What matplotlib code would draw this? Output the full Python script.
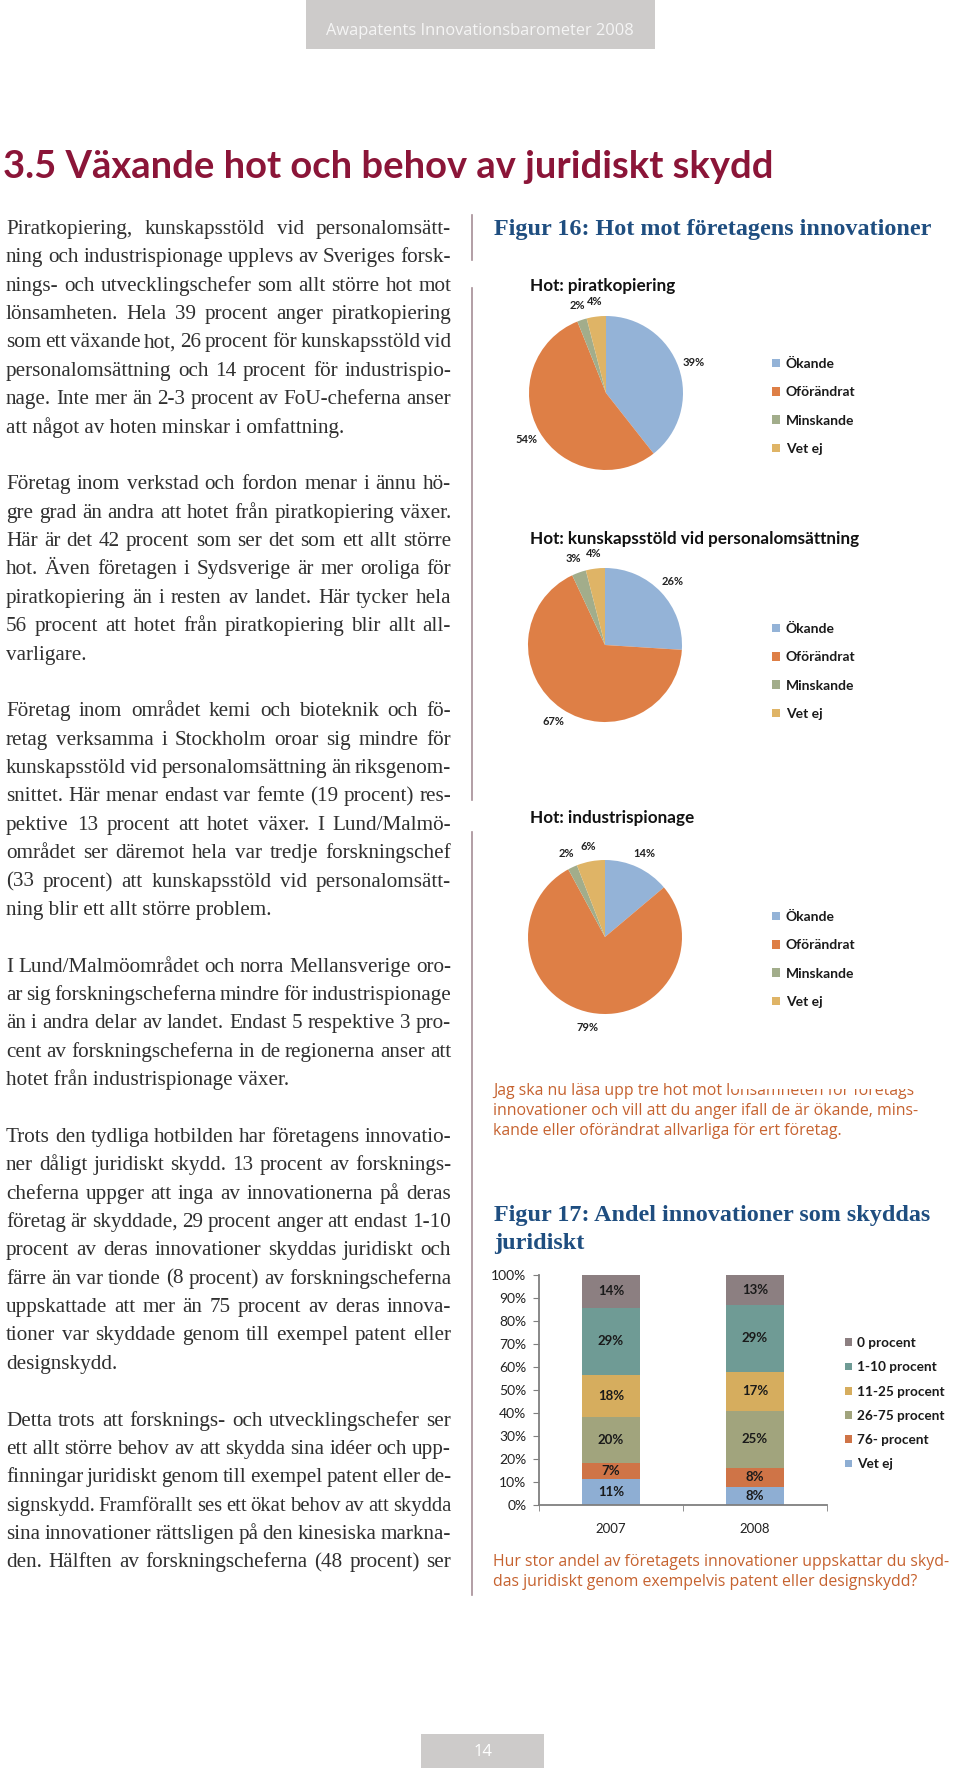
import matplotlib
matplotlib.use("Agg")
import matplotlib.pyplot as plt
from matplotlib.patches import Rectangle

W, H = 960, 1768

# --- data -------------------------------------------------------------
threat_labels = ["Ökande", "Oförändrat", "Minskande", "Vet ej"]
threat_colors = ["#94b3d7", "#de7f46", "#a2ad8b", "#dfb466"]
pie_titles = ["Hot: piratkopiering",
              "Hot: kunskapsstöld vid personalomsättning",
              "Hot: industrispionage"]
pirat = [39, 54, 2, 4]
kunskap = [26, 67, 3, 4]
spionage = [14, 79, 2, 6]

years = ["2007", "2008"]
share_labels = ["Vet ej", "76- procent", "26-75 procent",
                "11-25 procent", "1-10 procent", "0 procent"]
share_colors = ["#8eaed3", "#cf7447", "#a1a47d", "#d6ad5e", "#6f9b95", "#8c7f81"]
share_2007 = [11, 7, 20, 18, 29, 14]
share_2008 = [8, 8, 25, 17, 29, 13]

paragraphs = [
    ["Piratkopiering, kunskapsstöld vid personalomsätt-",
     "ning och industrispionage upplevs av Sveriges forsk-",
     "nings- och utvecklingschefer som allt större hot mot",
     "lönsamheten. Hela 39 procent anger piratkopiering",
     "som ett v\u00e4xande hot, 26 procent f\u00f6r kunskapsst\u00f6ld vid",
     "personalomsättning och 14 procent för industrispio-",
     "nage. Inte mer än 2-3 procent av FoU-cheferna anser",
     "att något av hoten minskar i omfattning."],
    ["Företag inom verkstad och fordon menar i ännu hö-",
     "gre grad än andra att hotet från piratkopiering växer.",
     "Här är det 42 procent som ser det som ett allt större",
     "hot. Även företagen i Sydsverige är mer oroliga för",
     "piratkopiering än i resten av landet. Här tycker hela",
     "56 procent att hotet från piratkopiering blir allt all-",
     "varligare."],
    ["Företag inom området kemi och bioteknik och fö-",
     "retag verksamma i Stockholm oroar sig mindre för",
     "kunskapsstöld vid personalomsättning än riksgenom-",
     "snittet. Här menar endast var femte (19 procent) res-",
     "pektive 13 procent att hotet växer. I Lund/Malmö-",
     "området ser däremot hela var tredje forskningschef",
     "(33 procent) att kunskapsstöld vid personalomsätt-",
     "ning blir ett allt större problem."],
    ["I Lund/Malmöområdet och norra Mellansverige oro-",
     "ar sig forskningscheferna mindre för industrispionage",
     "än i andra delar av landet. Endast 5 respektive 3 pro-",
     "cent av forskningscheferna in de regionerna anser att",
     "hotet från industrispionage växer."],
    ["Trots den tydliga hotbilden har företagens innovatio-",
     "ner dåligt juridiskt skydd. 13 procent av forsknings-",
     "cheferna uppger att inga av innovationerna på deras",
     "företag är skyddade, 29 procent anger att endast 1-10",
     "procent av deras innovationer skyddas juridiskt och",
     "färre än var tionde (8 procent) av forskningscheferna",
     "uppskattade att mer än 75 procent av deras innova-",
     "tioner var skyddade genom till exempel patent eller",
     "designskydd."],
    ["Detta trots att forsknings- och utvecklingschefer ser",
     "ett allt större behov av att skydda sina idéer och upp-",
     "finningar juridiskt genom till exempel patent eller de-",
     "signskydd. Framförallt ses ett ökat behov av att skydda",
     "sina innovationer rättsligen på den kinesiska markna-",
     "den. Hälften av forskningscheferna (48 procent) ser"],
]

caption_16 = ["Jag ska nu läsa upp tre hot mot lönsamheten för företags",
              "innovationer och vill att du anger ifall de är ökande, mins-",
              "kande eller oförändrat allvarliga för ert företag."]
caption_17 = ["Hur stor andel av företagets innovationer uppskattar du skyd-",
              "das juridiskt genom exempelvis patent eller designskydd?"]

# --- page ---------------------------------------------------------------
fig = plt.figure(figsize=(W / 100, H / 100), dpi=100)
fig.patch.set_facecolor("white")
page = fig.add_axes([0, 0, 1, 1])
page.set_xlim(0, W)
page.set_ylim(H, 0)
page.axis("off")
renderer = fig.canvas.get_renderer()


def px_axes(x0, y0, w, h):
    return fig.add_axes([x0 / W, 1 - (y0 + h) / H, w / W, h / H])


# header and page number
page.add_patch(Rectangle((306, 0), 349, 49, color="#cdcbca", lw=0))
page.text(480, 31, "Awapatents Innovationsbarometer 2008", ha="center", va="center",
          color="#f5f5f5", fontsize=11.8, family="Open Sans")
page.add_patch(Rectangle((421, 1734), 123, 34, color="#cdcbca", lw=0))
page.text(483, 1752, "14", ha="center", va="center", color="white",
          fontsize=12, family="Open Sans")

# section title, sized to the width it has in the reference
title = page.text(3, 178, "3.5 Växande hot och behov av juridiskt skydd", ha="left",
                  va="baseline", color="#8b1538", fontsize=30, fontweight="bold",
                  family="Lato")
tw = title.get_window_extent(renderer).width
title.set_fontsize(30 * 767 / tw)

# column divider
for y0, y1 in [(215, 260), (288, 800), (832, 1595)]:
    page.plot([472, 472], [y0, y1], color="#a58e96", lw=1.2)

# body text, justified
LEFT, RIGHT = 6, 451
BODY_SIZE = 15.2
body_kw = dict(family="Liberation Serif", color="#303030", va="baseline")


def draw_line(text, y, justify):
    if not justify:
        page.text(LEFT, y, text, fontsize=BODY_SIZE, **body_kw)
        return
    words = text.split()
    ts = [page.text(0, y, w, fontsize=BODY_SIZE, **body_kw) for w in words]
    widths = [t.get_window_extent(renderer).width for t in ts]
    gap = (RIGHT - LEFT - sum(widths)) / (len(words) - 1)
    if gap < 3.5:
        k = (RIGHT - LEFT - 3.5 * (len(words) - 1)) / sum(widths)
        for t in ts:
            t.set_fontsize(BODY_SIZE * k)
        widths = [t.get_window_extent(renderer).width for t in ts]
        gap = (RIGHT - LEFT - sum(widths)) / (len(words) - 1)
    x = LEFT
    for t, w in zip(ts, widths):
        t.set_x(x)
        x += w + gap


n = 0
for pi, para in enumerate(paragraphs):
    for li, line in enumerate(para):
        last = li == len(para) - 1 and pi != len(paragraphs) - 1
        draw_line(line, 234 + 28.37 * n, not last)
        n += 1
    n += 1

# figure titles and captions
fig_kw = dict(family="Liberation Serif", fontsize=17.4, fontweight="bold", color="#1f4e80",
              va="baseline")
page.text(494, 235, "Figur 16: Hot mot företagens innovationer", **fig_kw)
page.text(494, 1221, "Figur 17: Andel innovationer som skyddas", **fig_kw)
page.text(494, 1249, "juridiskt", **fig_kw)

cap_kw = dict(family="Open Sans", fontsize=11.4, color="#c6622f", va="center")
for i, line in enumerate(caption_16):
    page.text(493, 1091 + 20 * i, line, **cap_kw)
page.add_patch(Rectangle((730, 1068), 230, 21, color="white", lw=0, zorder=5))
for i, line in enumerate(caption_17):
    page.text(493, 1562 + 20.5 * i, line, **cap_kw)

# --- pies -----------------------------------------------------------------
chart_font = "Lato"
pies = [(pirat, 606, 393, 286, 363), (kunskap, 605, 645, 539, 628),
        (spionage, 605, 937, 818, 916)]
for (vals, cx, cy, ty, ly), ptitle in zip(pies, pie_titles):
    r = 77
    ax = px_axes(cx - 1.25 * r, cy - 1.25 * r, 2.5 * r, 2.5 * r)
    wedges, texts = ax.pie(vals, labels=[f"{v}%" for v in vals], colors=threat_colors,
                           startangle=90, counterclock=False, labeldistance=1.2,
                           wedgeprops=dict(linewidth=0),
                           textprops=dict(family=chart_font, fontsize=8, fontweight="bold",
                                          color="#222222"))
    for t in texts:
        t.set_ha("center")
        t.set_va("center")
    ax.set_xlim(-1.25, 1.25)
    ax.set_ylim(-1.25, 1.25)
    page.text(530, ty, ptitle, ha="left", va="center", family=chart_font,
              fontsize=12.3, fontweight="bold", color="#111111")
    ax.legend(wedges, threat_labels, loc="upper left",
              bbox_to_anchor=(772 / W, 1 - (ly - 5) / H), bbox_transform=fig.transFigure,
              frameon=False, borderpad=0, borderaxespad=0, handlelength=0.55,
              handleheight=0.55, handletextpad=0.45, labelspacing=1.17,
              prop=dict(family=chart_font, size=10, weight="bold"), labelcolor="#1a1a1a")

# --- stacked bars ----------------------------------------------------------
bx = px_axes(539, 1275, 288, 230)
xs = range(len(years))
bottoms = [0.0, 0.0]
tot = [sum(share_2007), sum(share_2008)]
handles = []
for i, lab in enumerate(share_labels):
    raw = [share_2007[i], share_2008[i]]
    h = [raw[k] / tot[k] * 100 for k in xs]
    bars = bx.bar(xs, h, bottom=bottoms, width=0.4, color=share_colors[i], lw=0, label=lab)
    handles.append(bars)
    for k in xs:
        bx.text(k, bottoms[k] + h[k] / 2, f"{raw[k]}%", ha="center", va="center",
                family=chart_font, fontsize=9.5, fontweight="bold", color="#1a1a1a")
    bottoms = [bottoms[k] + h[k] for k in xs]

bx.set_xlim(-0.5, 1.5)
bx.set_ylim(0, 100)
bx.set_yticks(range(0, 101, 10))
bx.set_yticklabels([f"{v}%" for v in range(0, 101, 10)])
bx.set_xticks(list(xs))
bx.set_xticklabels(years)
bx.set_xticks([-0.5, 0.5, 1.5], minor=True)
bx.tick_params(axis="x", which="major", length=0, pad=13)
bx.tick_params(axis="x", which="minor", length=4, color="#7f7f7f", direction="out")
bx.tick_params(axis="y", length=4, color="#7f7f7f", direction="out", pad=5)
for lab in bx.get_yticklabels():
    lab.set_family(chart_font)
    lab.set_fontsize(10)
    lab.set_color("#222222")
for lab in bx.get_xticklabels():
    lab.set_family(chart_font)
    lab.set_fontsize(9.5)
    lab.set_color("#222222")
for s in ["top", "right"]:
    bx.spines[s].set_visible(False)
for s in ["left", "bottom"]:
    bx.spines[s].set_color("#7f7f7f")
    bx.spines[s].set_linewidth(1.3)

bx.legend(handles[::-1], share_labels[::-1], loc="upper left",
          bbox_to_anchor=(845 / W, 1 - 1337 / H), bbox_transform=fig.transFigure,
          frameon=False, borderpad=0, borderaxespad=0, handlelength=0.5,
          handleheight=0.5, handletextpad=0.4, labelspacing=0.9,
          prop=dict(family=chart_font, size=9.8, weight="bold"), labelcolor="#1a1a1a")

fig.savefig("out.png", dpi=100)
